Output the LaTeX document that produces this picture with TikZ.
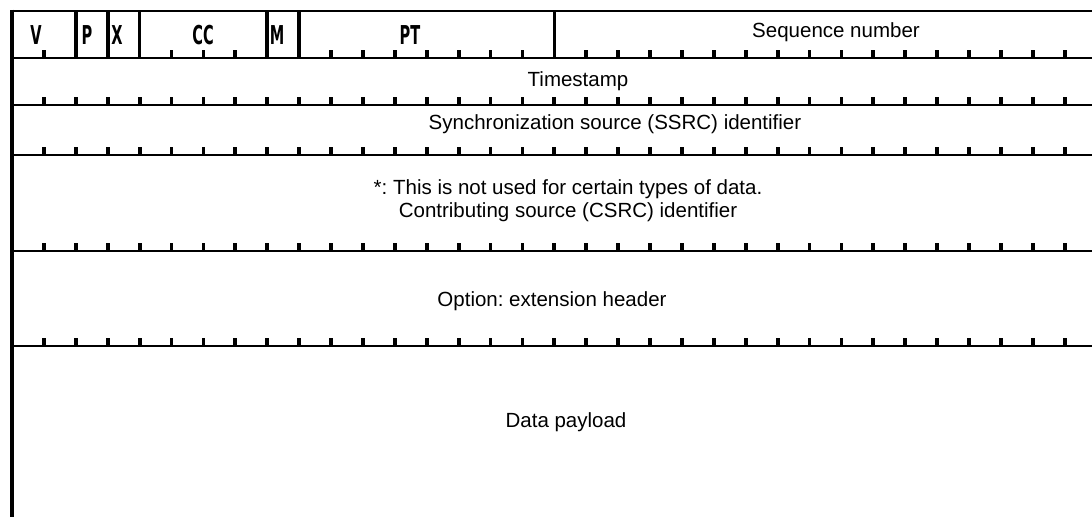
\documentclass[tikz,border=0pt]{standalone}
\usepackage{fontspec}
\setmainfont{Liberation Sans}
\newfontfamily\fieldfont{DejaVu Sans}
\frenchspacing
\begin{document}
\begin{tikzpicture}[x=1pt,y=-1pt,
  rule/.style={line width=2.8pt},
  wall/.style={line width=4pt},
  divider/.style={line width=3.6pt},
  tick/.style={line width=3.8pt},
  label/.style={font=\fontsize{20.5}{24}\selectfont, anchor=base, inner sep=0pt},
  field/.style={font=\fieldfont\bfseries\fontsize{26}{28}\selectfont, anchor=base, inner sep=0pt}]
\useasboundingbox (0,0) rectangle (1092,517);

% horizontal rules of the header rows
\foreach \yy in {11,58,105,155,251,346}
  \draw[rule] (12,\yy) -- (1092,\yy);
% left edge
\draw[wall] (12,9.6) -- (12,517);

% bit ticks under the first row (skipping field boundaries)
\foreach \k in {1,5,6,7,10,11,12,13,14,15,16,18,19,20,21,22,23,24,25,26,27,28,29,30,31,32,33}
  \draw[tick] ({12+31.9*\k},58) -- ({12+31.9*\k},50);
% bit ticks under the other rows
\foreach \yy in {105,155,251,346}
  \foreach \k in {1,...,33}
    \draw[tick] ({12+31.9*\k},\yy) -- ({12+31.9*\k},\yy-8);

% field boundaries in the first row
\foreach \k in {2,3,4,8,9,17}
  \draw[divider] ({12+31.9*\k},11) -- ({12+31.9*\k},58);

% first-row field names (heavy, condensed)
\tikzset{field/.append style={text=black, draw=none}}
\node[field] (v)  at (36,44)  {\scalebox{0.56}[1]{V}};
\node[field] (p)  at (87,44)  {\scalebox{0.56}[1]{P}};
\node[field] (x)  at (117,44) {\scalebox{0.56}[1]{X}};
\node[field] (cc) at (203,44) {\scalebox{0.56}[1]{CC}};
\node[field] (m)  at (277,44) {\scalebox{0.56}[1]{M}};
\node[field] (pt) at (410,44) {\scalebox{0.56}[1]{PT}};
\node[label] (seq) at (836,37) {Sequence number};

% remaining rows
\node[label] (ts)   at (578,86)  {Timestamp};
\node[label] (ssrc) at (615,129) {Synchronization source (SSRC) identifier};
\node[label] (note) at (568,194) {*: This is not used for certain types of data.};
\node[label] (csrc) at (568,217) {Contributing source (CSRC) identifier};
\node[label] (ext)  at (552,306) {Option: extension header};
\node[label] (data) at (566,427) {Data payload};
\end{tikzpicture}
\end{document}
